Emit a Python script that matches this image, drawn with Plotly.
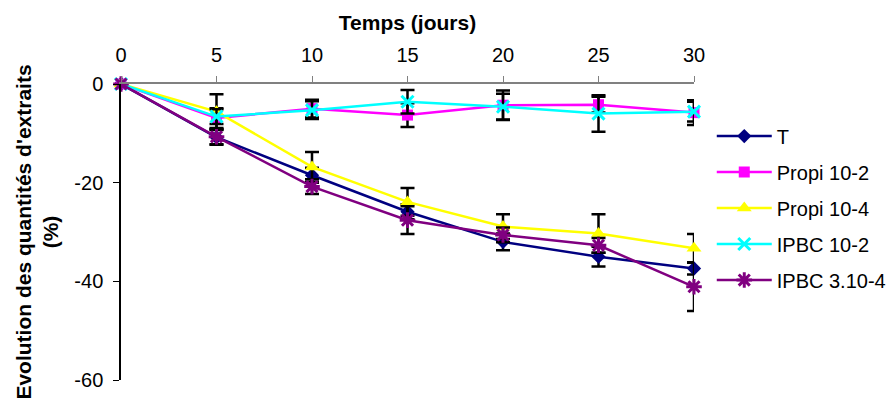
import plotly.graph_objects as go

days = [0, 5, 10, 15, 20, 25, 30]
series_names = ["T", "Propi 10-2", "Propi 10-4", "IPBC 10-2", "IPBC 3.10-4"]
T_vals = [0, -10.8, -18.5, -25.9, -32.0, -35.0, -37.4]
T_err = [0, 1.5, 1.5, 1.5, 1.7, 2.0, 1.2]
propi2_vals = [0, -6.9, -5.0, -6.3, -4.3, -4.2, -5.8]
propi2_err = [0, 2.0, 1.8, 2.4, 3.0, 1.6, 2.5]
propi4_vals = [0, -5.6, -16.8, -23.9, -28.9, -30.3, -33.3]
propi4_err = [0, 3.5, 3.0, 2.8, 2.5, 3.9, 2.9]
ipbc2_vals = [0, -6.6, -5.3, -3.6, -4.6, -6.0, -5.6]
ipbc2_err = [0, 1.5, 1.8, 2.4, 2.6, 3.7, 2.0]
ipbc3_vals = [0, -10.7, -20.8, -27.6, -30.6, -32.7, -41.1]
ipbc3_err = [0, 1.5, 1.5, 2.8, 1.5, 1.5, 4.9]
x_ticks = [0, 5, 10, 15, 20, 25, 30]
y_ticks = [0, -20, -40, -60]
y_tick_labels = ["0", "-20", "-40", "-60"]

colors = ["#000080", "#FF00FF", "#FFFF00", "#00FFFF", "#800080"]
symbols = ["diamond", "square", "triangle-up", "x-thin-open", "asterisk-open"]
sizes = [11, 11, 13, 12, 13]
values = [T_vals, propi2_vals, propi4_vals, ipbc2_vals, ipbc3_vals]
errors = [T_err, propi2_err, propi4_err, ipbc2_err, ipbc3_err]

fig = go.Figure()
for i, name in enumerate(series_names):
    sym = symbols[i]
    marker = dict(symbol=sym, size=sizes[i], color=colors[i])
    if sym.endswith("open"):
        marker["line"] = dict(color=colors[i], width=3)
    fig.add_trace(go.Scatter(
        x=days, y=values[i], name=name, mode="lines+markers",
        line=dict(color=colors[i], width=2.5),
        marker=marker,
        error_y=dict(type="data", array=errors[i], visible=True,
                     color="black", thickness=2.5, width=7),
        cliponaxis=False,
        legendgroup=name,
    ))

fig.update_layout(
    width=930, height=397,
    margin=dict(l=113, r=244, t=76, b=25),
    plot_bgcolor="white", paper_bgcolor="white",
    font=dict(family="Liberation Sans, Arial, sans-serif", size=20, color="black"),
    showlegend=True,
    legend=dict(x=1.031, xanchor="left", y=0.89, yanchor="top",
                font=dict(size=20), traceorder="grouped", tracegroupgap=7,
                itemwidth=55,
                bgcolor="rgba(0,0,0,0)"),
    xaxis=dict(
        side="top", range=[0, 30], tickvals=x_ticks,
        showline=True, linecolor="#808080", linewidth=1.5,
        ticks="outside", ticklen=6, tickcolor="#808080",
        ticklabelstandoff=6,
        showgrid=False, zeroline=False,
        title=dict(text="<b>Temps (jours)</b>", font=dict(size=21), standoff=8),
    ),
    yaxis=dict(
        range=[-60, 0], tickvals=y_ticks, ticktext=y_tick_labels,
        showline=True, linecolor="black", linewidth=1.5,
        ticks="outside", ticklen=6, tickcolor="black",
        ticklabelstandoff=6,
        showgrid=False, zeroline=False,
        title=dict(text="<b>Evolution des quantités d'extraits<br>(%)</b>",
                   font=dict(size=21), standoff=10),
    ),
)

fig.write_html("out.html")
